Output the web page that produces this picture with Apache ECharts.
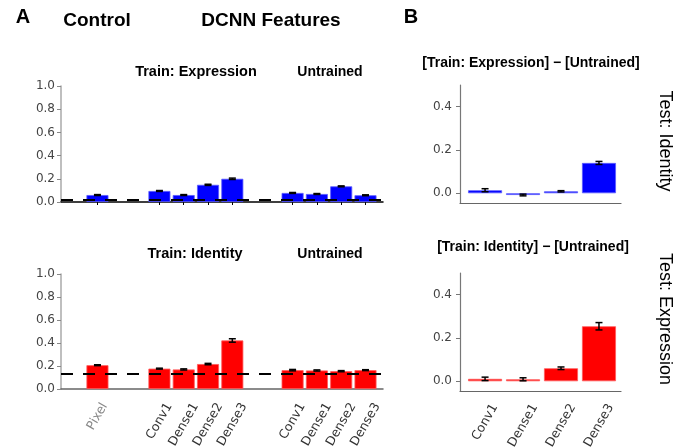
<!DOCTYPE html>
<html><head><meta charset="utf-8">
<script src="https://cdn.jsdelivr.net/npm/echarts@6/dist/echarts.min.js"></script>
<style>html,body{margin:0;padding:0;background:#fff}#c{width:685px;height:448px}</style>
</head><body><div id="c"></div>
<script>
// ---- data ----
const controlLabels = ['Pixel'];
const layerLabels = ['Conv1', 'Dense1', 'Dense2', 'Dense3'];
// Panel A top: Test identity (blue)
const topControl = [0.06];
const topControlErr = [0.004];
const topTrained = [0.095, 0.06, 0.148, 0.2];
const topTrainedErr = [0.004, 0.004, 0.005, 0.006];
const topUntrained = [0.078, 0.069, 0.135, 0.058];
const topUntrainedErr = [0.004, 0.004, 0.004, 0.004];
const topChance = 0.023;
// Panel A bottom: Test expression (red)
const botControl = [0.207];
const botControlErr = [0.004];
const botTrained = [0.177, 0.17, 0.217, 0.422];
const botTrainedErr = [0.004, 0.005, 0.006, 0.015];
const botUntrained = [0.164, 0.161, 0.155, 0.164];
const botUntrainedErr = [0.006, 0.005, 0.005, 0.004];
const botChance = 0.13;
// Panel B: differences
const diffTop = [0.014, -0.008, 0.009, 0.14];
const diffTopErr = [0.007, 0.004, 0.003, 0.007];
const diffBot = [0.011, 0.009, 0.06, 0.254];
const diffBotErr = [0.008, 0.007, 0.006, 0.017];
const yTicksB = [0, 0.2, 0.4];

// ---- layout (slot units on x) ----
const posControl = controlLabels.map((_, i) => 1.5 + i);
const posTrained = layerLabels.map((_, i) => 4.05 + i);
const posUntrained = layerLabels.map((_, i) => 9.53 + i);
const posB = layerLabels.map((_, i) => i);
const allPosA = posControl.concat(posTrained, posUntrained);
const allLabA = controlLabels.concat(layerLabels, layerLabels);

const BLUE = '#0000ff', RED = '#ff0000';
const tickFont = 'DejaVu Sans';
const labFontSize = 12.5;
const titleFont = '"Liberation Sans", Arial, sans-serif';

const gridBase = {outerBoundsMode: 'none', containLabel: false};
const grids = [
  Object.assign({left: 61, right: 302, top: 86, height: 116}, gridBase),
  Object.assign({left: 61, right: 302, top: 274, height: 115}, gridBase),
  Object.assign({left: 460, right: 64, top: 85, height: 118}, gridBase),
  Object.assign({left: 460, right: 64, top: 273, height: 118}, gridBase)
];
const xRangeA = [0, 13.25], xRangeB = [-0.66, 3.58];
const pxPerUnitA = (685 - 61 - 302) / (xRangeA[1] - xRangeA[0]);
const pxPerUnitB = (685 - 460 - 64) / (xRangeB[1] - xRangeB[0]);

// emulate centre-aligned rotated labels: shift each label's end by a quarter of its length
const ctx = document.createElement('canvas').getContext('2d');
ctx.font = labFontSize + 'px "' + tickFont + '"';
function labelPositions(pos, labels, pxPerUnit) {
  const map = {}, vals = [];
  pos.forEach((p, i) => {
    const v = p + (ctx.measureText(labels[i]).width / 4) / pxPerUnit;
    vals.push(v);
    map[v.toFixed(3)] = labels[i];
  });
  return {vals, map};
}
const labA = labelPositions(allPosA, allLabA, pxPerUnitA);
const labB = labelPositions(posB, layerLabels, pxPerUnitB);

function xAxisA(gi, showLabels, lineColor, showTicks) {
  return {
    gridIndex: gi, type: 'value', min: xRangeA[0], max: xRangeA[1],
    splitLine: {show: false},
    axisLine: {show: true, lineStyle: {color: lineColor, width: 1.5}, onZero: false},
    axisTick: {show: showTicks, length: 3, lineStyle: {color: '#000'}, customValues: allPosA},
    axisLabel: {
      show: showLabels, customValues: labA.vals, rotate: 60, margin: 15,
      fontFamily: tickFont, fontSize: labFontSize, showMinLabel: true, showMaxLabel: true,
      formatter: v => labA.map[Number(v).toFixed(3)] || '',
      color: v => (labA.map[Number(v).toFixed(3)] === 'Pixel' ? '#888' : '#333')
    }
  };
}
function xAxisB(gi, showLabels) {
  return {
    gridIndex: gi, type: 'value', min: xRangeB[0], max: xRangeB[1],
    splitLine: {show: false},
    axisLine: {show: true, lineStyle: {color: '#666', width: 1.2}, onZero: false},
    axisTick: {show: false},
    axisLabel: {
      show: showLabels, customValues: labB.vals, rotate: 60, margin: 14,
      fontFamily: tickFont, fontSize: labFontSize, color: '#333',
      formatter: v => labB.map[Number(v).toFixed(3)] || ''
    }
  };
}
function yAxisA(gi) {
  return {
    gridIndex: gi, type: 'value', min: 0, max: 1, interval: 0.2,
    splitLine: {show: false},
    axisLine: {show: true, lineStyle: {color: '#aaa', width: 1.5}, onZero: false},
    axisTick: {show: true, length: 4, lineStyle: {color: '#888'}},
    axisLabel: {fontFamily: tickFont, fontSize: 12, color: '#444', margin: 6,
      formatter: v => v.toFixed(1)}
  };
}
function yAxisB(gi) {
  return {
    gridIndex: gi, type: 'value', min: -0.045, max: 0.5,
    splitLine: {show: false},
    axisLine: {show: true, lineStyle: {color: '#777', width: 1.2}, onZero: false},
    axisTick: {show: true, length: 4, lineStyle: {color: '#777'}, customValues: yTicksB},
    axisLabel: {fontFamily: tickFont, fontSize: 12, color: '#444', margin: 8,
      customValues: yTicksB, formatter: v => Number(v).toFixed(1)}
  };
}

function barSeries(gi, pos, vals, color, edge, width, chance) {
  const s = {
    type: 'bar', xAxisIndex: gi, yAxisIndex: gi, barWidth: width,
    data: pos.map((p, i) => [p, vals[i]]),
    itemStyle: {color: color, borderColor: edge, borderWidth: 0.8},
    z: 2
  };
  if (chance !== undefined) {
    s.markLine = {
      silent: true, symbol: 'none', label: {show: false},
      lineStyle: {color: '#000', type: [12, 10], width: 2},
      data: [{yAxis: chance}], z: 5
    };
  }
  return s;
}
function errSeries(gi, pos, vals, errs, capW) {
  return {
    type: 'custom', xAxisIndex: gi, yAxisIndex: gi, z: 10,
    data: pos.map((p, i) => [p, vals[i] - errs[i], vals[i] + errs[i]]),
    renderItem: (params, api) => {
      const lo = api.coord([api.value(0), api.value(1)]);
      const hi = api.coord([api.value(0), api.value(2)]);
      const st = {stroke: '#000', lineWidth: 1.5};
      return {type: 'group', children: [
        {type: 'line', shape: {x1: lo[0], y1: lo[1], x2: hi[0], y2: hi[1]}, style: st},
        {type: 'line', shape: {x1: lo[0] - capW, y1: lo[1], x2: lo[0] + capW, y2: lo[1]}, style: st},
        {type: 'line', shape: {x1: hi[0] - capW, y1: hi[1], x2: hi[0] + capW, y2: hi[1]}, style: st}
      ]};
    }
  };
}

const topAll = topControl.concat(topTrained, topUntrained);
const topAllErr = topControlErr.concat(topTrainedErr, topUntrainedErr);
const botAll = botControl.concat(botTrained, botUntrained);
const botAllErr = botControlErr.concat(botTrainedErr, botUntrainedErr);
const series = [
  barSeries(0, allPosA, topAll, BLUE, '#5a5aff', 22, topChance),
  errSeries(0, allPosA, topAll, topAllErr, 3.5),
  barSeries(1, allPosA, botAll, RED, '#ff5a5a', 22, botChance),
  errSeries(1, allPosA, botAll, botAllErr, 3.5),
  barSeries(2, posB, diffTop, BLUE, '#5a5aff', 34),
  errSeries(2, posB, diffTop, diffTopErr, 3.5),
  barSeries(3, posB, diffBot, RED, '#ff5a5a', 34),
  errSeries(3, posB, diffBot, diffBotErr, 3.5)
];

function txt(text, x, y, size, weight, opts) {
  return Object.assign({
    type: 'text', x: x, y: y,
    style: {text: text, font: (weight || 'bold') + ' ' + size + 'px ' + titleFont,
      fill: '#000', align: 'center', verticalAlign: 'middle'}
  }, opts || {});
}

const option = {
  animation: false,
  backgroundColor: '#fff',
  grid: grids,
  xAxis: [xAxisA(0, false, '#000', true), xAxisA(1, true, '#666', false), xAxisB(2, false), xAxisB(3, true)],
  yAxis: [yAxisA(0), yAxisA(1), yAxisB(2), yAxisB(3)],
  series: series,
  graphic: [
    txt('A', 23, 17, 20),
    txt('Control', 97, 21, 19),
    txt('DCNN Features', 271, 21, 19),
    txt('B', 411, 17, 20),
    txt('Train: Expression', 196, 72, 14.5),
    txt('Untrained', 330, 72, 14),
    txt('Train: Identity', 195, 254, 14.5),
    txt('Untrained', 330, 254, 14),
    txt('[Train: Expression] \u2212 [Untrained]', 531, 63, 14),
    txt('[Train: Identity] \u2212 [Untrained]', 533, 247, 14),
    txt('Test: Identity', 665, 141, 18, 'normal', {rotation: -Math.PI / 2}),
    txt('Test: Expression', 665, 319, 18, 'normal', {rotation: -Math.PI / 2})
  ]
};
echarts.init(document.getElementById('c')).setOption(option);
</script></body></html>
